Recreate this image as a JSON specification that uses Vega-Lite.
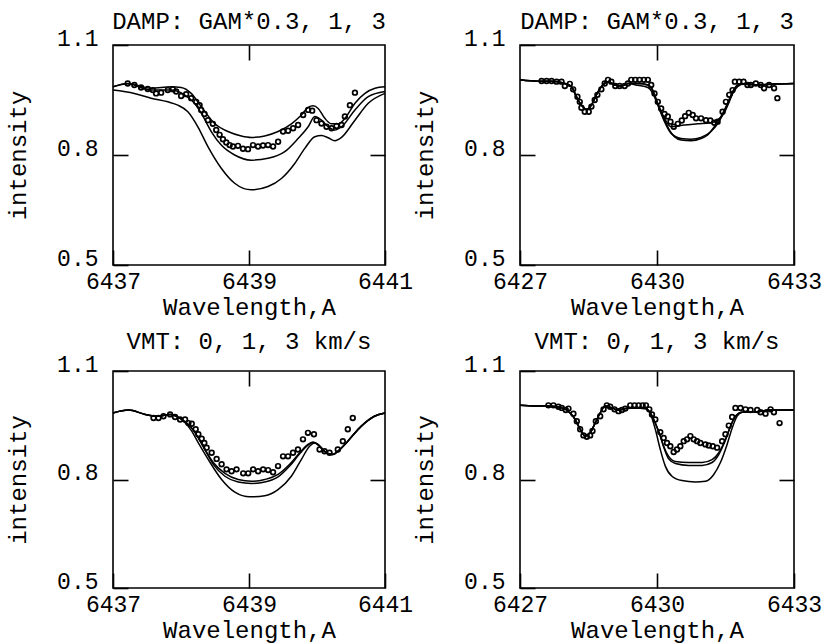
{
"$schema": "https://vega.github.io/schema/vega-lite/v6.json",
"background": "white",
"padding": {"left": 5, "top": 9, "right": 5, "bottom": 0},
"columns": 2,
"bounds": "flush",
"spacing": {"row": 106, "column": 135},
"datasets": {
"p1l": [
{"c":"a","x":6437.000,"y":0.986},{"c":"a","x":6437.216,"y":0.995},{"c":"a","x":6437.560,"y":0.982},{"c":"a","x":6437.855,"y":0.986},{"c":"a","x":6438.002,"y":0.984},{"c":"a","x":6438.150,"y":0.968},{"c":"a","x":6438.297,"y":0.932},{"c":"a","x":6438.494,"y":0.886},{"c":"a","x":6438.690,"y":0.864},{"c":"a","x":6438.887,"y":0.852},{"c":"a","x":6439.034,"y":0.848},{"c":"a","x":6439.231,"y":0.852},{"c":"a","x":6439.428,"y":0.864},{"c":"a","x":6439.624,"y":0.885},{"c":"a","x":6439.771,"y":0.909},{"c":"a","x":6439.870,"y":0.930},{"c":"a","x":6439.943,"y":0.934},{"c":"a","x":6440.017,"y":0.927},{"c":"a","x":6440.115,"y":0.900},{"c":"a","x":6440.214,"y":0.885},{"c":"a","x":6440.312,"y":0.885},{"c":"a","x":6440.410,"y":0.900},{"c":"a","x":6440.558,"y":0.941},{"c":"a","x":6440.705,"y":0.968},{"c":"a","x":6440.853,"y":0.982},{"c":"a","x":6441.000,"y":0.986},
{"c":"b","x":6437.000,"y":0.986},{"c":"b","x":6437.216,"y":0.994},{"c":"b","x":6437.560,"y":0.977},{"c":"b","x":6437.855,"y":0.977},{"c":"b","x":6438.052,"y":0.964},{"c":"b","x":6438.199,"y":0.941},{"c":"b","x":6438.297,"y":0.914},{"c":"b","x":6438.445,"y":0.864},{"c":"b","x":6438.592,"y":0.827},{"c":"b","x":6438.789,"y":0.800},{"c":"b","x":6439.034,"y":0.786},{"c":"b","x":6439.280,"y":0.791},{"c":"b","x":6439.526,"y":0.809},{"c":"b","x":6439.722,"y":0.845},{"c":"b","x":6439.870,"y":0.877},{"c":"b","x":6439.968,"y":0.905},{"c":"b","x":6440.066,"y":0.895},{"c":"b","x":6440.165,"y":0.877},{"c":"b","x":6440.263,"y":0.868},{"c":"b","x":6440.361,"y":0.877},{"c":"b","x":6440.558,"y":0.923},{"c":"b","x":6440.754,"y":0.959},{"c":"b","x":6441.000,"y":0.973},
{"c":"c","x":6437.000,"y":0.977},{"c":"c","x":6437.314,"y":0.968},{"c":"c","x":6437.560,"y":0.955},{"c":"c","x":6437.806,"y":0.945},{"c":"c","x":6437.953,"y":0.936},{"c":"c","x":6438.101,"y":0.918},{"c":"c","x":6438.248,"y":0.877},{"c":"c","x":6438.396,"y":0.823},{"c":"c","x":6438.592,"y":0.764},{"c":"c","x":6438.789,"y":0.723},{"c":"c","x":6439.034,"y":0.705},{"c":"c","x":6439.280,"y":0.714},{"c":"c","x":6439.477,"y":0.736},{"c":"c","x":6439.673,"y":0.777},{"c":"c","x":6439.821,"y":0.818},{"c":"c","x":6439.968,"y":0.850},{"c":"c","x":6440.066,"y":0.853},{"c":"c","x":6440.165,"y":0.847},{"c":"c","x":6440.263,"y":0.839},{"c":"c","x":6440.361,"y":0.848},{"c":"c","x":6440.558,"y":0.895},{"c":"c","x":6440.754,"y":0.941},{"c":"c","x":6441.000,"y":0.968}
],
"p1p": [
{"x":6437.216,"y":0.995},{"x":6437.314,"y":0.991},{"x":6437.413,"y":0.984},{"x":6437.511,"y":0.980},{"x":6437.585,"y":0.977},{"x":6437.634,"y":0.968},{"x":6437.708,"y":0.970},{"x":6437.806,"y":0.977},{"x":6437.880,"y":0.979},{"x":6437.929,"y":0.973},{"x":6438.002,"y":0.961},{"x":6438.076,"y":0.966},{"x":6438.150,"y":0.955},{"x":6438.224,"y":0.945},{"x":6438.273,"y":0.936},{"x":6438.297,"y":0.923},{"x":6438.346,"y":0.912},{"x":6438.396,"y":0.895},{"x":6438.469,"y":0.885},{"x":6438.518,"y":0.868},{"x":6438.568,"y":0.855},{"x":6438.617,"y":0.843},{"x":6438.666,"y":0.834},{"x":6438.715,"y":0.827},{"x":6438.764,"y":0.823},{"x":6438.838,"y":0.825},{"x":6438.912,"y":0.817},{"x":6438.985,"y":0.816},{"x":6439.059,"y":0.827},{"x":6439.133,"y":0.823},{"x":6439.206,"y":0.826},{"x":6439.280,"y":0.827},{"x":6439.354,"y":0.823},{"x":6439.428,"y":0.836},{"x":6439.501,"y":0.864},{"x":6439.575,"y":0.866},{"x":6439.649,"y":0.873},{"x":6439.722,"y":0.882},{"x":6439.796,"y":0.909},{"x":6439.870,"y":0.923},{"x":6439.929,"y":0.921},{"x":6439.993,"y":0.895},{"x":6440.066,"y":0.886},{"x":6440.140,"y":0.877},{"x":6440.214,"y":0.873},{"x":6440.287,"y":0.879},{"x":6440.361,"y":0.882},{"x":6440.410,"y":0.905},{"x":6440.484,"y":0.936},{"x":6440.558,"y":0.970}
],
"p2l": [
{"c":"a","x":6427.000,"y":1.005},{"c":"a","x":6427.400,"y":1.001},{"c":"a","x":6427.691,"y":1.001},{"c":"a","x":6427.982,"y":0.995},{"c":"a","x":6428.127,"y":0.986},{"c":"a","x":6428.236,"y":0.959},{"c":"a","x":6428.345,"y":0.936},{"c":"a","x":6428.455,"y":0.925},{"c":"a","x":6428.564,"y":0.936},{"c":"a","x":6428.673,"y":0.964},{"c":"a","x":6428.782,"y":0.986},{"c":"a","x":6428.927,"y":1.000},{"c":"a","x":6429.073,"y":0.991},{"c":"a","x":6429.218,"y":0.988},{"c":"a","x":6429.364,"y":0.995},{"c":"a","x":6429.582,"y":0.995},{"c":"a","x":6429.800,"y":0.991},{"c":"a","x":6429.909,"y":0.977},{"c":"a","x":6429.982,"y":0.950},{"c":"a","x":6430.055,"y":0.927},{"c":"a","x":6430.164,"y":0.895},{"c":"a","x":6430.273,"y":0.868},{"c":"a","x":6430.382,"y":0.850},{"c":"a","x":6430.527,"y":0.841},{"c":"a","x":6430.745,"y":0.839},{"c":"a","x":6430.964,"y":0.845},{"c":"a","x":6431.109,"y":0.855},{"c":"a","x":6431.255,"y":0.877},{"c":"a","x":6431.400,"y":0.905},{"c":"a","x":6431.545,"y":0.941},{"c":"a","x":6431.655,"y":0.973},{"c":"a","x":6431.764,"y":0.991},{"c":"a","x":6431.909,"y":0.995},{"c":"a","x":6432.200,"y":0.991},{"c":"a","x":6432.491,"y":0.993},{"c":"a","x":6433.000,"y":0.995},
{"c":"b","x":6427.000,"y":1.005},{"c":"b","x":6427.400,"y":1.001},{"c":"b","x":6427.691,"y":1.001},{"c":"b","x":6427.982,"y":0.995},{"c":"b","x":6428.127,"y":0.986},{"c":"b","x":6428.236,"y":0.959},{"c":"b","x":6428.345,"y":0.936},{"c":"b","x":6428.455,"y":0.925},{"c":"b","x":6428.564,"y":0.936},{"c":"b","x":6428.673,"y":0.964},{"c":"b","x":6428.782,"y":0.986},{"c":"b","x":6428.927,"y":1.000},{"c":"b","x":6429.073,"y":0.991},{"c":"b","x":6429.218,"y":0.988},{"c":"b","x":6429.364,"y":0.995},{"c":"b","x":6429.582,"y":0.990},{"c":"b","x":6429.800,"y":0.984},{"c":"b","x":6429.909,"y":0.968},{"c":"b","x":6430.018,"y":0.936},{"c":"b","x":6430.164,"y":0.891},{"c":"b","x":6430.309,"y":0.859},{"c":"b","x":6430.527,"y":0.845},{"c":"b","x":6430.745,"y":0.843},{"c":"b","x":6430.964,"y":0.848},{"c":"b","x":6431.182,"y":0.864},{"c":"b","x":6431.327,"y":0.885},{"c":"b","x":6431.473,"y":0.918},{"c":"b","x":6431.618,"y":0.959},{"c":"b","x":6431.764,"y":0.986},{"c":"b","x":6431.909,"y":0.994},{"c":"b","x":6432.200,"y":0.991},{"c":"b","x":6432.491,"y":0.993},{"c":"b","x":6433.000,"y":0.995},
{"c":"c","x":6427.000,"y":1.005},{"c":"c","x":6427.400,"y":1.001},{"c":"c","x":6427.691,"y":1.001},{"c":"c","x":6427.982,"y":0.995},{"c":"c","x":6428.127,"y":0.986},{"c":"c","x":6428.236,"y":0.959},{"c":"c","x":6428.345,"y":0.936},{"c":"c","x":6428.455,"y":0.925},{"c":"c","x":6428.564,"y":0.936},{"c":"c","x":6428.673,"y":0.964},{"c":"c","x":6428.782,"y":0.986},{"c":"c","x":6428.927,"y":1.000},{"c":"c","x":6429.073,"y":0.991},{"c":"c","x":6429.218,"y":0.988},{"c":"c","x":6429.364,"y":0.995},{"c":"c","x":6429.582,"y":0.995},{"c":"c","x":6429.800,"y":0.991},{"c":"c","x":6429.909,"y":0.975},{"c":"c","x":6430.018,"y":0.941},{"c":"c","x":6430.164,"y":0.900},{"c":"c","x":6430.309,"y":0.877},{"c":"c","x":6430.600,"y":0.882},{"c":"c","x":6430.891,"y":0.885},{"c":"c","x":6431.182,"y":0.888},{"c":"c","x":6431.327,"y":0.895},{"c":"c","x":6431.473,"y":0.915},{"c":"c","x":6431.582,"y":0.945},{"c":"c","x":6431.691,"y":0.977},{"c":"c","x":6431.836,"y":0.993},{"c":"c","x":6432.200,"y":0.991},{"c":"c","x":6432.491,"y":0.993},{"c":"c","x":6433.000,"y":0.995}
],
"p2p": [
{"x":6427.473,"y":1.002},{"x":6427.582,"y":1.002},{"x":6427.691,"y":1.002},{"x":6427.800,"y":1.000},{"x":6427.909,"y":1.000},{"x":6427.982,"y":0.988},{"x":6428.091,"y":0.994},{"x":6428.164,"y":0.979},{"x":6428.258,"y":0.959},{"x":6428.309,"y":0.945},{"x":6428.345,"y":0.929},{"x":6428.418,"y":0.918},{"x":6428.505,"y":0.918},{"x":6428.564,"y":0.932},{"x":6428.636,"y":0.950},{"x":6428.695,"y":0.964},{"x":6428.782,"y":0.979},{"x":6428.855,"y":0.995},{"x":6428.927,"y":1.005},{"x":6429.000,"y":1.000},{"x":6429.087,"y":0.988},{"x":6429.182,"y":0.988},{"x":6429.291,"y":0.988},{"x":6429.364,"y":0.995},{"x":6429.436,"y":1.005},{"x":6429.524,"y":1.005},{"x":6429.618,"y":1.005},{"x":6429.713,"y":1.005},{"x":6429.800,"y":1.005},{"x":6429.873,"y":0.991},{"x":6429.945,"y":0.968},{"x":6430.018,"y":0.945},{"x":6430.091,"y":0.927},{"x":6430.164,"y":0.912},{"x":6430.236,"y":0.905},{"x":6430.295,"y":0.891},{"x":6430.367,"y":0.877},{"x":6430.455,"y":0.885},{"x":6430.542,"y":0.894},{"x":6430.615,"y":0.906},{"x":6430.695,"y":0.915},{"x":6430.782,"y":0.909},{"x":6430.855,"y":0.900},{"x":6430.964,"y":0.900},{"x":6431.073,"y":0.895},{"x":6431.167,"y":0.894},{"x":6431.255,"y":0.888},{"x":6431.327,"y":0.891},{"x":6431.436,"y":0.918},{"x":6431.509,"y":0.945},{"x":6431.582,"y":0.964},{"x":6431.655,"y":0.977},{"x":6431.705,"y":1.000},{"x":6431.800,"y":1.000},{"x":6431.895,"y":1.000},{"x":6431.982,"y":0.991},{"x":6432.055,"y":0.991},{"x":6432.164,"y":0.995},{"x":6432.273,"y":0.991},{"x":6432.345,"y":0.982},{"x":6432.455,"y":0.991},{"x":6432.564,"y":0.982},{"x":6432.636,"y":0.955}
],
"p3l": [
{"c":"a","x":6437.000,"y":0.984},{"c":"a","x":6437.230,"y":0.992},{"c":"a","x":6437.474,"y":0.980},{"c":"a","x":6437.669,"y":0.975},{"c":"a","x":6437.840,"y":0.980},{"c":"a","x":6438.011,"y":0.966},{"c":"a","x":6438.158,"y":0.942},{"c":"a","x":6438.255,"y":0.915},{"c":"a","x":6438.353,"y":0.883},{"c":"a","x":6438.475,"y":0.847},{"c":"a","x":6438.646,"y":0.817},{"c":"a","x":6438.841,"y":0.800},{"c":"a","x":6439.037,"y":0.795},{"c":"a","x":6439.232,"y":0.800},{"c":"a","x":6439.427,"y":0.814},{"c":"a","x":6439.598,"y":0.842},{"c":"a","x":6439.745,"y":0.874},{"c":"a","x":6439.867,"y":0.897},{"c":"a","x":6439.940,"y":0.903},{"c":"a","x":6440.013,"y":0.897},{"c":"a","x":6440.111,"y":0.878},{"c":"a","x":6440.233,"y":0.869},{"c":"a","x":6440.306,"y":0.878},{"c":"a","x":6440.453,"y":0.906},{"c":"a","x":6440.648,"y":0.947},{"c":"a","x":6440.844,"y":0.975},{"c":"a","x":6441.000,"y":0.984},
{"c":"b","x":6437.000,"y":0.984},{"c":"b","x":6437.230,"y":0.992},{"c":"b","x":6437.474,"y":0.980},{"c":"b","x":6437.669,"y":0.975},{"c":"b","x":6437.840,"y":0.980},{"c":"b","x":6438.011,"y":0.966},{"c":"b","x":6438.158,"y":0.942},{"c":"b","x":6438.255,"y":0.915},{"c":"b","x":6438.353,"y":0.882},{"c":"b","x":6438.475,"y":0.842},{"c":"b","x":6438.646,"y":0.809},{"c":"b","x":6438.841,"y":0.793},{"c":"b","x":6439.037,"y":0.789},{"c":"b","x":6439.232,"y":0.793},{"c":"b","x":6439.427,"y":0.807},{"c":"b","x":6439.598,"y":0.837},{"c":"b","x":6439.745,"y":0.871},{"c":"b","x":6439.867,"y":0.895},{"c":"b","x":6439.940,"y":0.903},{"c":"b","x":6440.013,"y":0.897},{"c":"b","x":6440.111,"y":0.878},{"c":"b","x":6440.233,"y":0.869},{"c":"b","x":6440.306,"y":0.878},{"c":"b","x":6440.453,"y":0.906},{"c":"b","x":6440.648,"y":0.947},{"c":"b","x":6440.844,"y":0.975},{"c":"b","x":6441.000,"y":0.984},
{"c":"c","x":6437.000,"y":0.984},{"c":"c","x":6437.230,"y":0.992},{"c":"c","x":6437.474,"y":0.980},{"c":"c","x":6437.669,"y":0.975},{"c":"c","x":6437.840,"y":0.980},{"c":"c","x":6438.011,"y":0.966},{"c":"c","x":6438.158,"y":0.934},{"c":"c","x":6438.255,"y":0.901},{"c":"c","x":6438.402,"y":0.855},{"c":"c","x":6438.597,"y":0.800},{"c":"c","x":6438.792,"y":0.765},{"c":"c","x":6439.012,"y":0.752},{"c":"c","x":6439.232,"y":0.755},{"c":"c","x":6439.427,"y":0.772},{"c":"c","x":6439.623,"y":0.809},{"c":"c","x":6439.769,"y":0.855},{"c":"c","x":6439.891,"y":0.892},{"c":"c","x":6439.965,"y":0.901},{"c":"c","x":6440.038,"y":0.892},{"c":"c","x":6440.111,"y":0.878},{"c":"c","x":6440.233,"y":0.869},{"c":"c","x":6440.306,"y":0.878},{"c":"c","x":6440.453,"y":0.906},{"c":"c","x":6440.648,"y":0.947},{"c":"c","x":6440.844,"y":0.975},{"c":"c","x":6441.000,"y":0.984}
],
"p3p": [
{"x":6437.596,"y":0.970},{"x":6437.669,"y":0.970},{"x":6437.742,"y":0.975},{"x":6437.840,"y":0.980},{"x":6437.913,"y":0.973},{"x":6437.987,"y":0.966},{"x":6438.060,"y":0.966},{"x":6438.109,"y":0.956},{"x":6438.158,"y":0.954},{"x":6438.216,"y":0.939},{"x":6438.255,"y":0.925},{"x":6438.304,"y":0.913},{"x":6438.343,"y":0.901},{"x":6438.377,"y":0.888},{"x":6438.451,"y":0.874},{"x":6438.524,"y":0.857},{"x":6438.597,"y":0.842},{"x":6438.670,"y":0.828},{"x":6438.744,"y":0.823},{"x":6438.817,"y":0.828},{"x":6438.915,"y":0.817},{"x":6438.988,"y":0.817},{"x":6439.061,"y":0.828},{"x":6439.134,"y":0.823},{"x":6439.208,"y":0.828},{"x":6439.281,"y":0.826},{"x":6439.354,"y":0.820},{"x":6439.427,"y":0.837},{"x":6439.501,"y":0.864},{"x":6439.574,"y":0.864},{"x":6439.647,"y":0.874},{"x":6439.720,"y":0.883},{"x":6439.794,"y":0.911},{"x":6439.867,"y":0.929},{"x":6439.955,"y":0.925},{"x":6440.038,"y":0.883},{"x":6440.111,"y":0.878},{"x":6440.184,"y":0.874},{"x":6440.306,"y":0.883},{"x":6440.380,"y":0.906},{"x":6440.453,"y":0.939},{"x":6440.526,"y":0.970}
],
"p4l": [
{"c":"a","x":6427.000,"y":1.005},{"c":"a","x":6427.329,"y":1.003},{"c":"a","x":6427.622,"y":1.003},{"c":"a","x":6427.914,"y":0.998},{"c":"a","x":6428.097,"y":0.984},{"c":"a","x":6428.207,"y":0.966},{"c":"a","x":6428.317,"y":0.939},{"c":"a","x":6428.426,"y":0.920},{"c":"a","x":6428.536,"y":0.929},{"c":"a","x":6428.646,"y":0.956},{"c":"a","x":6428.756,"y":0.984},{"c":"a","x":6428.865,"y":1.003},{"c":"a","x":6429.012,"y":0.998},{"c":"a","x":6429.158,"y":0.992},{"c":"a","x":6429.304,"y":0.996},{"c":"a","x":6429.524,"y":0.998},{"c":"a","x":6429.743,"y":0.996},{"c":"a","x":6429.853,"y":0.984},{"c":"a","x":6429.963,"y":0.956},{"c":"a","x":6430.072,"y":0.920},{"c":"a","x":6430.146,"y":0.892},{"c":"a","x":6430.255,"y":0.864},{"c":"a","x":6430.402,"y":0.850},{"c":"a","x":6430.694,"y":0.847},{"c":"a","x":6430.987,"y":0.847},{"c":"a","x":6431.206,"y":0.855},{"c":"a","x":6431.353,"y":0.874},{"c":"a","x":6431.499,"y":0.911},{"c":"a","x":6431.609,"y":0.947},{"c":"a","x":6431.718,"y":0.975},{"c":"a","x":6431.865,"y":0.986},{"c":"a","x":6432.157,"y":0.986},{"c":"a","x":6432.450,"y":0.992},{"c":"a","x":6433.000,"y":0.992},
{"c":"b","x":6427.000,"y":1.005},{"c":"b","x":6427.329,"y":1.003},{"c":"b","x":6427.622,"y":1.003},{"c":"b","x":6427.914,"y":0.998},{"c":"b","x":6428.097,"y":0.984},{"c":"b","x":6428.207,"y":0.966},{"c":"b","x":6428.317,"y":0.939},{"c":"b","x":6428.426,"y":0.920},{"c":"b","x":6428.536,"y":0.929},{"c":"b","x":6428.646,"y":0.956},{"c":"b","x":6428.756,"y":0.984},{"c":"b","x":6428.865,"y":1.003},{"c":"b","x":6429.012,"y":0.998},{"c":"b","x":6429.158,"y":0.992},{"c":"b","x":6429.304,"y":0.996},{"c":"b","x":6429.524,"y":0.998},{"c":"b","x":6429.743,"y":0.996},{"c":"b","x":6429.853,"y":0.984},{"c":"b","x":6429.963,"y":0.956},{"c":"b","x":6430.072,"y":0.920},{"c":"b","x":6430.146,"y":0.890},{"c":"b","x":6430.255,"y":0.857},{"c":"b","x":6430.402,"y":0.844},{"c":"b","x":6430.694,"y":0.839},{"c":"b","x":6430.987,"y":0.839},{"c":"b","x":6431.206,"y":0.847},{"c":"b","x":6431.353,"y":0.869},{"c":"b","x":6431.499,"y":0.909},{"c":"b","x":6431.609,"y":0.947},{"c":"b","x":6431.718,"y":0.975},{"c":"b","x":6431.865,"y":0.986},{"c":"b","x":6432.157,"y":0.986},{"c":"b","x":6432.450,"y":0.992},{"c":"b","x":6433.000,"y":0.992},
{"c":"c","x":6427.000,"y":1.005},{"c":"c","x":6427.329,"y":1.003},{"c":"c","x":6427.622,"y":1.003},{"c":"c","x":6427.914,"y":0.998},{"c":"c","x":6428.097,"y":0.984},{"c":"c","x":6428.207,"y":0.966},{"c":"c","x":6428.317,"y":0.939},{"c":"c","x":6428.426,"y":0.920},{"c":"c","x":6428.536,"y":0.929},{"c":"c","x":6428.646,"y":0.956},{"c":"c","x":6428.756,"y":0.984},{"c":"c","x":6428.865,"y":1.003},{"c":"c","x":6429.012,"y":0.998},{"c":"c","x":6429.158,"y":0.992},{"c":"c","x":6429.304,"y":0.996},{"c":"c","x":6429.524,"y":0.998},{"c":"c","x":6429.743,"y":0.996},{"c":"c","x":6429.853,"y":0.982},{"c":"c","x":6429.963,"y":0.939},{"c":"c","x":6430.072,"y":0.883},{"c":"c","x":6430.182,"y":0.837},{"c":"c","x":6430.328,"y":0.809},{"c":"c","x":6430.548,"y":0.797},{"c":"c","x":6430.840,"y":0.793},{"c":"c","x":6431.060,"y":0.795},{"c":"c","x":6431.243,"y":0.814},{"c":"c","x":6431.389,"y":0.847},{"c":"c","x":6431.535,"y":0.897},{"c":"c","x":6431.645,"y":0.942},{"c":"c","x":6431.755,"y":0.975},{"c":"c","x":6431.865,"y":0.986},{"c":"c","x":6432.157,"y":0.986},{"c":"c","x":6432.450,"y":0.992},{"c":"c","x":6433.000,"y":0.992}
],
"p4p": [
{"x":6427.622,"y":1.005},{"x":6427.732,"y":1.005},{"x":6427.841,"y":1.001},{"x":6427.914,"y":0.998},{"x":6428.002,"y":0.992},{"x":6428.061,"y":0.996},{"x":6428.170,"y":0.982},{"x":6428.244,"y":0.961},{"x":6428.317,"y":0.939},{"x":6428.390,"y":0.922},{"x":6428.463,"y":0.918},{"x":6428.536,"y":0.922},{"x":6428.587,"y":0.934},{"x":6428.661,"y":0.961},{"x":6428.756,"y":0.975},{"x":6428.829,"y":0.994},{"x":6428.902,"y":1.005},{"x":6428.975,"y":1.001},{"x":6429.070,"y":0.994},{"x":6429.158,"y":0.989},{"x":6429.231,"y":0.992},{"x":6429.304,"y":0.996},{"x":6429.414,"y":1.005},{"x":6429.509,"y":1.005},{"x":6429.597,"y":1.005},{"x":6429.685,"y":1.005},{"x":6429.758,"y":1.005},{"x":6429.831,"y":0.994},{"x":6429.890,"y":0.980},{"x":6429.963,"y":0.966},{"x":6430.072,"y":0.931},{"x":6430.146,"y":0.915},{"x":6430.219,"y":0.901},{"x":6430.292,"y":0.892},{"x":6430.365,"y":0.876},{"x":6430.438,"y":0.883},{"x":6430.511,"y":0.892},{"x":6430.585,"y":0.906},{"x":6430.658,"y":0.911},{"x":6430.731,"y":0.920},{"x":6430.804,"y":0.911},{"x":6430.877,"y":0.906},{"x":6430.950,"y":0.901},{"x":6431.060,"y":0.897},{"x":6431.133,"y":0.894},{"x":6431.221,"y":0.892},{"x":6431.316,"y":0.888},{"x":6431.426,"y":0.906},{"x":6431.499,"y":0.925},{"x":6431.572,"y":0.949},{"x":6431.645,"y":0.973},{"x":6431.718,"y":0.998},{"x":6431.828,"y":0.998},{"x":6431.938,"y":0.994},{"x":6432.048,"y":0.992},{"x":6432.194,"y":0.992},{"x":6432.267,"y":0.986},{"x":6432.377,"y":0.982},{"x":6432.487,"y":0.994},{"x":6432.560,"y":0.986},{"x":6432.684,"y":0.956}
]
},
"concat": [
{
"title": {"text": "DAMP: GAM*0.3, 1, 3", "offset": -7},
"width": 272, "height": 220,
"layer": [
{"data": {"name": "p1l"}, "mark": {"type": "line", "interpolate": "monotone", "color": "black", "strokeWidth": 1.5},
 "encoding": {
  "x": {"field": "x", "type": "quantitative", "scale": {"domain": [6437, 6441], "nice": false, "zero": false}, "axis": {"orient": "bottom", "values": [6437, 6439, 6441], "format": "d", "title": "Wavelength,A", "labelPadding": 20, "titlePadding": 2}},
  "y": {"field": "y", "type": "quantitative", "scale": {"domain": [0.5, 1.1], "nice": false, "zero": false}, "axis": {"orient": "left", "values": [0.5, 0.8, 1.1], "format": ".1f", "title": "intensity", "labelPadding": 30, "titlePadding": 26}},
  "detail": {"field": "c", "type": "nominal"}}},
{"data": {"name": "p1p"}, "mark": {"type": "point", "shape": "circle", "size": 22, "filled": false, "stroke": "black", "strokeWidth": 1.7, "opacity": 1},
 "encoding": {
  "x": {"field": "x", "type": "quantitative", "scale": {"domain": [6437, 6441], "nice": false, "zero": false}, "axis": {"orient": "top", "values": [6439], "labels": false, "title": null}},
  "y": {"field": "y", "type": "quantitative", "scale": {"domain": [0.5, 1.1], "nice": false, "zero": false}, "axis": {"orient": "right", "values": [0.8], "labels": false, "title": null}}}}
],
"resolve": {"axis": {"x": "independent", "y": "independent"}}
},
{
"title": {"text": "DAMP: GAM*0.3, 1, 3", "offset": -7},
"width": 274, "height": 220,
"layer": [
{"data": {"name": "p2l"}, "mark": {"type": "line", "interpolate": "monotone", "color": "black", "strokeWidth": 1.5},
 "encoding": {
  "x": {"field": "x", "type": "quantitative", "scale": {"domain": [6427, 6433], "nice": false, "zero": false}, "axis": {"orient": "bottom", "values": [6427, 6430, 6433], "format": "d", "title": "Wavelength,A", "labelPadding": 20, "titlePadding": 2}},
  "y": {"field": "y", "type": "quantitative", "scale": {"domain": [0.5, 1.1], "nice": false, "zero": false}, "axis": {"orient": "left", "values": [0.5, 0.8, 1.1], "format": ".1f", "title": "intensity", "labelPadding": 30, "titlePadding": 26}},
  "detail": {"field": "c", "type": "nominal"}}},
{"data": {"name": "p2p"}, "mark": {"type": "point", "shape": "circle", "size": 22, "filled": false, "stroke": "black", "strokeWidth": 1.7, "opacity": 1},
 "encoding": {
  "x": {"field": "x", "type": "quantitative", "scale": {"domain": [6427, 6433], "nice": false, "zero": false}, "axis": {"orient": "top", "values": [6430], "labels": false, "title": null}},
  "y": {"field": "y", "type": "quantitative", "scale": {"domain": [0.5, 1.1], "nice": false, "zero": false}, "axis": {"orient": "right", "values": [0.8], "labels": false, "title": null}}}}
],
"resolve": {"axis": {"x": "independent", "y": "independent"}}
},
{
"title": {"text": "VMT: 0, 1, 3 km/s", "offset": -1},
"width": 272, "height": 217,
"layer": [
{"data": {"name": "p3l"}, "mark": {"type": "line", "interpolate": "monotone", "color": "black", "strokeWidth": 1.5},
 "encoding": {
  "x": {"field": "x", "type": "quantitative", "scale": {"domain": [6437, 6441], "nice": false, "zero": false}, "axis": {"orient": "bottom", "values": [6437, 6439, 6441], "format": "d", "title": "Wavelength,A", "labelPadding": 20, "titlePadding": 2}},
  "y": {"field": "y", "type": "quantitative", "scale": {"domain": [0.5, 1.1], "nice": false, "zero": false}, "axis": {"orient": "left", "values": [0.5, 0.8, 1.1], "format": ".1f", "title": "intensity", "labelPadding": 30, "titlePadding": 26}},
  "detail": {"field": "c", "type": "nominal"}}},
{"data": {"name": "p3p"}, "mark": {"type": "point", "shape": "circle", "size": 22, "filled": false, "stroke": "black", "strokeWidth": 1.7, "opacity": 1},
 "encoding": {
  "x": {"field": "x", "type": "quantitative", "scale": {"domain": [6437, 6441], "nice": false, "zero": false}, "axis": {"orient": "top", "values": [6439], "labels": false, "title": null}},
  "y": {"field": "y", "type": "quantitative", "scale": {"domain": [0.5, 1.1], "nice": false, "zero": false}, "axis": {"orient": "right", "values": [0.8], "labels": false, "title": null}}}}
],
"resolve": {"axis": {"x": "independent", "y": "independent"}}
},
{
"title": {"text": "VMT: 0, 1, 3 km/s", "offset": -1},
"width": 274, "height": 217,
"layer": [
{"data": {"name": "p4l"}, "mark": {"type": "line", "interpolate": "monotone", "color": "black", "strokeWidth": 1.5},
 "encoding": {
  "x": {"field": "x", "type": "quantitative", "scale": {"domain": [6427, 6433], "nice": false, "zero": false}, "axis": {"orient": "bottom", "values": [6427, 6430, 6433], "format": "d", "title": "Wavelength,A", "labelPadding": 20, "titlePadding": 2}},
  "y": {"field": "y", "type": "quantitative", "scale": {"domain": [0.5, 1.1], "nice": false, "zero": false}, "axis": {"orient": "left", "values": [0.5, 0.8, 1.1], "format": ".1f", "title": "intensity", "labelPadding": 30, "titlePadding": 26}},
  "detail": {"field": "c", "type": "nominal"}}},
{"data": {"name": "p4p"}, "mark": {"type": "point", "shape": "circle", "size": 22, "filled": false, "stroke": "black", "strokeWidth": 1.7, "opacity": 1},
 "encoding": {
  "x": {"field": "x", "type": "quantitative", "scale": {"domain": [6427, 6433], "nice": false, "zero": false}, "axis": {"orient": "top", "values": [6430], "labels": false, "title": null}},
  "y": {"field": "y", "type": "quantitative", "scale": {"domain": [0.5, 1.1], "nice": false, "zero": false}, "axis": {"orient": "right", "values": [0.8], "labels": false, "title": null}}}}
],
"resolve": {"axis": {"x": "independent", "y": "independent"}}
}
],
"config": {
 "font": "Liberation Mono",
 "view": {"stroke": "black", "strokeWidth": 1.6},
 "axis": {"domain": false, "grid": false, "ticks": true, "tickSize": -15, "tickColor": "black", "tickWidth": 1.6, "tickOpacity": 1, "zindex": 1, "labelFont": "Liberation Mono", "labelFontSize": 23, "labelColor": "black", "labelFlush": false, "labelOverlap": false, "titleFont": "Liberation Mono", "titleFontSize": 24, "titleFontWeight": "normal", "titleColor": "black"},
 "axisY": {"labelBaseline": "alphabetic"},
 "title": {"font": "Liberation Mono", "fontSize": 24, "fontWeight": "normal", "color": "black", "anchor": "middle"}
}
}
